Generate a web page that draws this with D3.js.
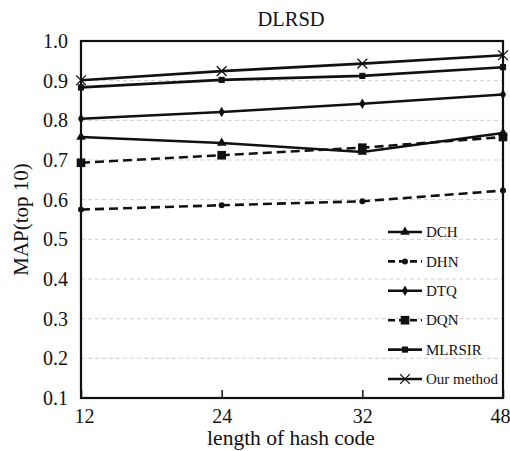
<!DOCTYPE html>
<html>
<head>
<meta charset="utf-8">
<script src="https://cdn.jsdelivr.net/npm/d3@7"></script>
<style>
  body { margin: 0; background: #fff; }
  text { font-family: "Liberation Serif", "DejaVu Serif", serif; fill: #111; }
</style>
</head>
<body>
<div id="chart"></div>
<script>
// Chart data
const codeLengths = ["12", "24", "32", "48"];
const yTicks = [0.1, 0.2, 0.3, 0.4, 0.5, 0.6, 0.7, 0.8, 0.9, 1.0];

const dch = [0.758, 0.743, 0.720, 0.768];
const dhn = [0.575, 0.586, 0.596, 0.623];
const dtq = [0.804, 0.821, 0.842, 0.865];
const dqn = [0.693, 0.712, 0.731, 0.758];
const mlrsir = [0.883, 0.902, 0.912, 0.934];
const ourMethod = [0.901, 0.924, 0.943, 0.964];

const series = [
    { name: "DCH", values: dch, dashed: false, marker: "triangle", size: 40 },
    { name: "DHN", values: dhn, dashed: true, marker: "circle", size: 28 },
    { name: "DTQ", values: dtq, dashed: false, marker: "diamond", size: 32 },
    { name: "DQN", values: dqn, dashed: true, marker: "square", size: 75 },
    { name: "MLRSIR", values: mlrsir, dashed: false, marker: "square", size: 38 },
    { name: "Our method", values: ourMethod, dashed: false, marker: "cross", size: 64 }
];

const svgWidth = 510;
const svgHeight = 451;
const margin = { top: 41, right: 7, bottom: 53, left: 81 };
const width = svgWidth - margin.left - margin.right;
const height = svgHeight - margin.top - margin.bottom;

const svg = d3.select("#chart")
    .append("svg")
    .attr("width", svgWidth)
    .attr("height", svgHeight);

const chart = svg.append("g")
    .attr("transform", `translate(${margin.left},${margin.top})`);

// Scales
const x = d3.scalePoint()
    .domain(codeLengths)
    .range([0, width]);

const y = d3.scaleLinear()
    .domain([0.1, 1.0])
    .range([height, 0]);

// Grid lines
chart.append("g")
    .selectAll("line")
    .data(yTicks.filter(d => d > 0.15 && d < 0.95))
    .enter()
    .append("line")
    .attr("x1", 0)
    .attr("x2", width)
    .attr("y1", d => y(d))
    .attr("y2", d => y(d))
    .attr("stroke", "#cfcfcf")
    .attr("stroke-width", 1)
    .attr("stroke-dasharray", "4,3");

// Axes
const xAxis = chart.append("g")
    .attr("transform", `translate(0,${height})`)
    .call(d3.axisBottom(x).tickSizeInner(-8).tickSizeOuter(0).tickPadding(11));
xAxis.select(".domain").remove();
xAxis.selectAll("line").attr("stroke", "#111").attr("stroke-width", 1.5);
xAxis.selectAll("text").style("font-size", "20px")
    .attr("dx", (d, i) => i === 0 ? 3 : (i === codeLengths.length - 1 ? -3 : 0));

const yAxis = chart.append("g")
    .call(d3.axisLeft(y).tickValues(yTicks).tickFormat(d3.format(".1f")).tickSize(0).tickPadding(13));
yAxis.select(".domain").remove();
yAxis.selectAll("text").style("font-size", "20px");

// Frame
chart.append("rect")
    .attr("width", width)
    .attr("height", height)
    .attr("fill", "none")
    .attr("stroke", "#111")
    .attr("stroke-width", 2.2);

// Lines and markers
const line = d3.line()
    .x((d, i) => x(codeLengths[i]))
    .y(d => y(d));

const symbolOf = {
    triangle: d3.symbolTriangle,
    circle: d3.symbolCircle,
    diamond: d3.symbolDiamond,
    square: d3.symbolSquare,
    cross: d3.symbolTimes
};

function drawMarker(g, s, cx, cy) {
    const path = g.append("path")
        .attr("transform", `translate(${cx},${cy})`)
        .attr("d", d3.symbol().type(symbolOf[s.marker]).size(s.size)());
    if (s.marker === "cross") {
        path.attr("fill", "none").attr("stroke", "#111").attr("stroke-width", 1.3);
    } else {
        path.attr("fill", "#111");
    }
}

series.forEach(s => {
    chart.append("path")
        .datum(s.values)
        .attr("fill", "none")
        .attr("stroke", "#111")
        .attr("stroke-width", 2.6)
        .attr("stroke-dasharray", s.dashed ? "9,5" : null)
        .attr("d", line);
    const g = chart.append("g");
    s.values.forEach((v, i) => drawMarker(g, s, x(codeLengths[i]), y(v)));
});

// Legend
const legend = chart.append("g")
    .attr("transform", `translate(${388 - margin.left},${232 - margin.top})`);

series.forEach((s, i) => {
    const row = legend.append("g").attr("transform", `translate(0,${i * 29.4})`);
    row.append("line")
        .attr("x1", 0)
        .attr("x2", 34)
        .attr("stroke", "#111")
        .attr("stroke-width", 2.6)
        .attr("stroke-dasharray", s.dashed ? "7,4" : null);
    drawMarker(row, s, 17, 0);
    row.append("text")
        .attr("x", 38)
        .attr("dy", "0.35em")
        .style("font-size", "15px")
        .text(s.name);
});

// Title and axis labels
svg.append("text")
    .attr("x", 291)
    .attr("y", 26)
    .attr("text-anchor", "middle")
    .style("font-size", "20.5px")
    .text("DLRSD");

svg.append("text")
    .attr("x", 291)
    .attr("y", 445)
    .attr("text-anchor", "middle")
    .style("font-size", "21.5px")
    .text("length of hash code");

svg.append("text")
    .attr("transform", `translate(28,${margin.top + height / 2}) rotate(-90)`)
    .attr("text-anchor", "middle")
    .style("font-size", "21px")
    .text("MAP(top 10)");
</script>
</body>
</html>
